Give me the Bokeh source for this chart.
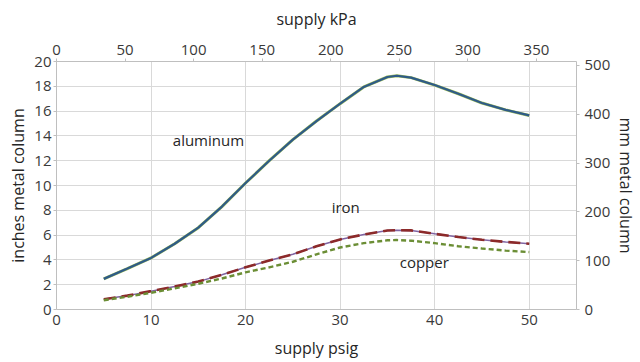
from bokeh.plotting import figure
from bokeh.models import Range1d, LinearAxis, FixedTicker
from bokeh.core.properties import value
from bokeh.embed import file_html
from bokeh.resources import INLINE

# supply pressure, psig
psig = [5, 7.5, 10, 12.5, 15, 17.5, 20, 22.5, 25, 27.5, 30, 32.5, 35, 36, 37.5, 40, 42.5, 45, 47.5, 50]
# inches of metal column
aluminum = [2.47, 3.3, 4.16, 5.3, 6.6, 8.3, 10.2, 12.0, 13.7, 15.2, 16.6, 17.95, 18.75, 18.85, 18.7, 18.1, 17.4, 16.65, 16.1, 15.65]
iron = [0.82, 1.12, 1.48, 1.85, 2.25, 2.8, 3.4, 3.95, 4.45, 5.1, 5.65, 6.05, 6.37, 6.4, 6.38, 6.1, 5.85, 5.62, 5.45, 5.3]
copper = [0.75, 1.03, 1.35, 1.7, 2.08, 2.5, 3.0, 3.4, 3.85, 4.45, 5.0, 5.35, 5.58, 5.6, 5.55, 5.35, 5.1, 4.92, 4.75, 4.63]

labels = ["aluminum", "iron", "copper"]
label_x = [12.3, 29.1, 36.3]
label_y = [13.66, 8.27, 3.84]

psig_ticks = [0, 10, 20, 30, 40, 50]
inch_ticks = [0, 2, 4, 6, 8, 10, 12, 14, 16, 18, 20]
kpa_ticks = [0, 50, 100, 150, 200, 250, 300, 350]
mm_ticks = [0, 100, 200, 300, 400, 500]

X_MAX = 55
Y_MAX = 20
KPA_PER_PSI = 6.894757
MM_PER_INCH = 25.4

FONT = "Open Sans"
TICK_COLOR = "#3a3a3a"
AXIS_COLOR = "#bfbfbf"
GRID_COLOR = "#d9d9d9"

p = figure(frame_width=520, frame_height=248, output_backend="svg", toolbar_location=None,
           x_range=Range1d(0, X_MAX), y_range=Range1d(0, Y_MAX),
           min_border_left=56, min_border_right=46, min_border_top=61, min_border_bottom=38)
p.outline_line_color = None
p.background_fill_color = "white"

p.extra_x_ranges = {"kpa": Range1d(0, X_MAX * KPA_PER_PSI)}
p.extra_y_ranges = {"mm": Range1d(0, Y_MAX * MM_PER_INCH)}


def style_axis(ax, label):
    ax.axis_label = label
    ax.axis_label_text_font = FONT
    ax.axis_label_text_font_size = "16px"
    ax.axis_label_text_font_style = "normal"
    ax.axis_label_text_color = "#262626"
    ax.major_label_text_font = FONT
    ax.major_label_text_font_size = "15px"
    ax.major_label_text_color = TICK_COLOR
    ax.axis_line_color = AXIS_COLOR
    ax.major_tick_line_color = AXIS_COLOR
    ax.major_tick_out = 3
    ax.major_tick_in = 0
    ax.minor_tick_line_color = None
    ax.axis_label_standoff = 2
    ax.major_label_standoff = 2


bx = p.xaxis[0]
bx.ticker = FixedTicker(ticks=psig_ticks)
style_axis(bx, "supply psig")
bx.major_tick_line_color = None
bx.major_tick_out = 0
bx.major_label_standoff = 5
bx.axis_label_standoff = 9

ly = p.yaxis[0]
ly.ticker = FixedTicker(ticks=inch_ticks)
style_axis(ly, "inches metal column")

top = LinearAxis(x_range_name="kpa", ticker=FixedTicker(ticks=kpa_ticks))
style_axis(top, "supply kPa")
top.major_label_standoff = 4
top.axis_label_standoff = 12
p.add_layout(top, "above")

right = LinearAxis(y_range_name="mm", ticker=FixedTicker(ticks=mm_ticks))
style_axis(right, "mm metal column")
right.major_label_standoff = 5
p.add_layout(right, "right")

p.xgrid.ticker = FixedTicker(ticks=psig_ticks)
p.ygrid.ticker = FixedTicker(ticks=inch_ticks)
p.xgrid.grid_line_color = GRID_COLOR
p.ygrid.grid_line_color = GRID_COLOR

# underlying companion series (visible as faint halos)
p.line(psig, aluminum, line_color="#9bbb59", line_width=3.0)
p.line(psig, iron, line_color="#8064a2", line_width=1.5)

p.line(psig, aluminum, line_color="#2f5b88", line_width=2.2)
p.line(psig, iron, line_color="#8c2a2a", line_width=2.6, line_dash="12 6")
p.line(psig, copper, line_color="#6b8e35", line_width=2.4, line_dash="5 3")

p.text(x=label_x, y=label_y, text=labels, text_font=value(FONT), text_font_size="15px",
       text_color="#262626", text_baseline="middle", text_align="left")

open("out.html", "w").write(file_html(p, INLINE))
